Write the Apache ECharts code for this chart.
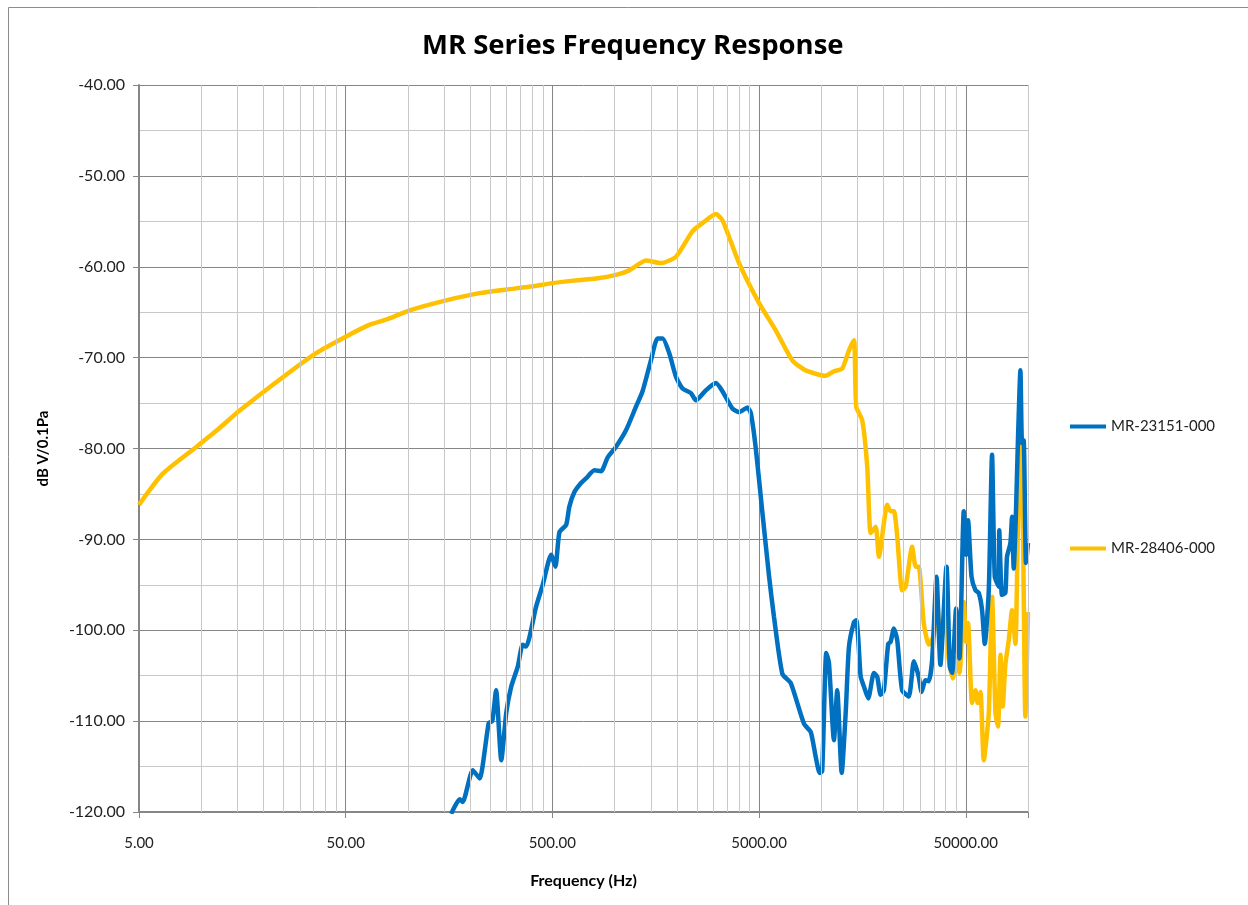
<!DOCTYPE html>
<html>
<head>
<meta charset="utf-8">
<title>MR Series Frequency Response</title>
<script src="https://cdn.jsdelivr.net/npm/echarts@6/dist/echarts.min.js"></script>
<style>
  html, body { margin: 0; padding: 0; background: #fff; }
  #chart { width: 1248px; height: 905px; }
</style>
</head>
<body>
<div id="chart"></div>
<script>
// frequency in Hz, level in dB V/0.1Pa
const blueName = 'MR-23151-000';
const blueFreq = [162, 178, 184, 206, 222, 246, 256, 267, 283, 299, 316, 340, 359, 373, 417, 449, 493, 517, 541, 583,
  604, 639, 688, 727, 798, 860, 925, 1016, 1135, 1269, 1365, 1499, 1613, 1706, 1837, 1980, 2131, 2339, 2473, 2764,
  3089, 3324, 3715, 4004, 4390, 4560, 4820, 5190, 5590, 5900, 6480, 7110, 8250, 8890, 9390, 9820, 10100, 10570, 10890, 11510,
  11940, 12550, 13120, 13610, 14390, 14760, 15090, 15500, 16080, 16870, 17970, 18640, 19370, 20080, 21070, 21630, 22450, 23300, 24600, 26500,
  28050, 29600, 30550, 31930, 33100, 34370, 36100, 37700, 40330, 41850, 42940, 44900, 46600, 48900, 50170, 51300, 53300, 55700, 57800, 59950,
  61770, 64600, 67000, 69050, 72150, 72600, 74830, 77700, 79150, 82200, 83700, 85300, 87500, 89400, 91900, 93550, 95300, 97800, 100000];
const blueDb = [-120.2, -118.6, -118.9, -115.4, -116.3, -110.2, -110.0, -106.6, -114.3, -109.1, -106.2, -104.0, -101.6, -101.8, -97.4, -95.0, -91.7, -93.0, -89.2, -88.4,
  -86.4, -84.8, -83.8, -83.3, -82.4, -82.5, -81.0, -79.8, -78.0, -75.4, -73.7, -70.3, -67.9, -67.9, -69.5, -72.1, -73.4, -73.9, -74.7, -73.6,
  -72.8, -73.7, -75.6, -76.0, -75.5, -76.1, -80.0, -87.1, -94.1, -98.5, -104.8, -105.8, -110.3, -111.2, -113.9, -115.7, -115.5, -102.5, -103.6, -112.1,
  -106.6, -115.7, -109.1, -101.8, -99.1, -98.9, -100.9, -105.1, -106.2, -107.5, -104.7, -105.1, -107.1, -106.6, -101.5, -101.3, -99.8, -101.1, -106.6, -107.3,
  -103.4, -105.1, -106.8, -105.5, -105.6, -103.3, -94.1, -103.8, -93.0, -104.0, -104.7, -97.6, -103.1, -86.9, -91.7, -87.9, -94.1, -95.6, -95.9, -97.8,
  -101.5, -95.6, -80.7, -94.1, -95.2, -89.0, -96.1, -95.9, -91.9, -90.4, -87.5, -93.2, -86.8, -79.1, -71.4, -79.4, -79.1, -92.6, -90.4];

const yellowName = 'MR-28406-000';
const yellowFreq = [5, 6.5, 9.5, 11.9, 15.4, 25, 36, 50, 65, 79, 102, 153, 222, 300, 387, 500, 650, 813, 1016, 1177,
  1418, 1675, 1981, 2380, 2661, 3088, 3327, 4000, 5000, 6020, 7240, 8410, 10500, 11510, 12630, 13610, 14390, 14760, 15780, 16680,
  17330, 18330, 19000, 20850, 21630, 22450, 23300, 24600, 25600, 27500, 28600, 29600, 31300, 33100, 35000, 36300, 37700, 39900, 41400, 43300,
  44900, 46600, 48900, 50200, 51300, 53600, 55700, 57150, 58900, 61100, 64600, 67000, 69600, 71600, 73600, 75500, 77700, 80700, 83700, 86900,
  89400, 91900, 94600, 97100, 100000];
const yellowDb = [-86.2, -82.8, -79.8, -78.0, -75.8, -72.1, -69.5, -67.7, -66.4, -65.8, -64.8, -63.7, -62.9, -62.5, -62.2, -61.8, -61.5, -61.3, -60.9, -60.4,
  -59.3, -59.6, -58.9, -56.1, -55.2, -54.2, -54.9, -59.6, -64.0, -67.0, -70.3, -71.4, -72.0, -71.5, -71.2, -69.2, -68.1, -75.4, -76.9, -82.0,
  -89.3, -88.6, -91.9, -86.2, -86.9, -86.9, -89.7, -95.6, -95.2, -90.8, -93.0, -93.0, -99.2, -101.6, -100.5, -96.7, -101.1, -99.1, -103.3, -105.3,
  -103.1, -104.7, -96.9, -101.3, -99.2, -108.0, -106.6, -108.0, -106.8, -114.3, -109.1, -96.3, -109.1, -110.6, -102.7, -108.4, -103.8, -101.1, -97.8, -101.5,
  -88.2, -78.7, -89.3, -109.5, -98.0];

// axis settings
const freqMin = 5;
const freqMax = 100000;
const dbMin = -120;
const dbMax = -40;
const dbStep = 10;
// minor vertical gridlines: 5*k*10^n, k = 2..9
const minorFreqs = [];
for (let n = 0; n < 5; n++) {
  for (let k = 2; k <= 9; k++) {
    const f = 5 * k * Math.pow(10, n);
    if (f <= freqMax) minorFreqs.push(f);
  }
}

const majorGrid = '#868686';
const minorGrid = '#c8c8c8';
const font = 'Lato, "Open Sans", sans-serif';

const toPairs = (xs, ys) => xs.map((x, i) => [x, ys[i]]);

const chart = echarts.init(document.getElementById('chart'), null, { renderer: 'canvas' });

const option = {
  animation: false,
  backgroundColor: '#ffffff',
  textStyle: { fontFamily: font },
  title: {
    text: 'MR Series Frequency Response',
    left: 417,
    top: 27,
    textStyle: { fontFamily: '"Open Sans", Lato, sans-serif', fontWeight: 'bold', fontSize: 27.5, color: '#000' },
  },
  legend: {
    orient: 'vertical',
    left: 1065,
    top: 414,
    itemGap: 107,
    itemWidth: 36,
    itemHeight: 4,
    icon: 'rect',
    data: [blueName, yellowName],
    textStyle: { fontFamily: font, fontSize: 15, color: '#222' },
  },
  graphic: [
    {
      type: 'rect',
      shape: { x: 8.5, y: 7.5, width: 1400, height: 1100 },
      style: { fill: 'none', stroke: '#8c8c8c', lineWidth: 1 },
      silent: true,
    },
  ],
  grid: { left: 139, right: 220, top: 85, bottom: 93, containLabel: false },
  xAxis: [
    {
      // data axis, log scale
      type: 'log',
      logBase: 10,
      min: freqMin,
      max: freqMax,
      show: false,
    },
    {
      // label axis: decades counted from 5 Hz
      type: 'value',
      min: 0,
      max: Math.log10(freqMax / freqMin),
      interval: 1,
      position: 'bottom',
      name: 'Frequency (Hz)',
      nameLocation: 'middle',
      nameGap: 61,
      nameTextStyle: { fontFamily: font, fontWeight: 'bold', fontSize: 16, color: '#000' },
      axisLine: { show: true, onZero: false, lineStyle: { color: majorGrid, width: 2 } },
      axisTick: { show: true, length: 6, lineStyle: { color: majorGrid, width: 1 } },
      axisLabel: {
        margin: 24,
        fontFamily: font,
        fontSize: 15,
        color: '#222',
        formatter: (v) => (v > 4.2 ? '' : (freqMin * Math.pow(10, v)).toFixed(2)),
      },
      splitLine: { show: true, lineStyle: { color: majorGrid, width: 1 } },
    },
  ],
  yAxis: {
    type: 'value',
    min: dbMin,
    max: dbMax,
    interval: dbStep,
    name: 'dB V/0.1Pa',
    nameLocation: 'middle',
    nameGap: 88,
    nameTextStyle: { fontFamily: font, fontWeight: 'bold', fontSize: 15, color: '#000' },
    axisLine: { show: true, lineStyle: { color: majorGrid, width: 2 } },
    axisTick: { show: true, length: 6, lineStyle: { color: majorGrid, width: 1 } },
    axisLabel: {
      margin: 14,
      fontFamily: font,
      fontSize: 16,
      color: '#222',
      formatter: (v) => v.toFixed(2),
    },
    splitLine: { show: true, lineStyle: { color: majorGrid, width: 1 } },
    minorTick: { show: false, splitNumber: 2 },
    minorSplitLine: { show: true, lineStyle: { color: minorGrid, width: 1 } },
  },
  series: [
    {
      // holds the minor log gridlines
      name: 'grid',
      type: 'line',
      xAxisIndex: 0,
      data: [],
      z: 1,
      silent: true,
      markLine: {
        silent: true,
        symbol: ['none', 'none'],
        label: { show: false },
        lineStyle: { color: minorGrid, width: 1, type: 'solid' },
        emphasis: { disabled: true },
        data: minorFreqs.map((f) => ({ xAxis: f })),
      },
    },
    {
      name: blueName,
      type: 'line',
      xAxisIndex: 0,
      data: toPairs(blueFreq, blueDb),
      smooth: 0.2,
      showSymbol: false,
      symbol: 'none',
      clip: true,
      z: 4,
      lineStyle: { color: '#0070C0', width: 4.5 },
      itemStyle: { color: '#0070C0' },
    },
    {
      name: yellowName,
      type: 'line',
      xAxisIndex: 0,
      data: toPairs(yellowFreq, yellowDb),
      smooth: 0.2,
      showSymbol: false,
      symbol: 'none',
      clip: true,
      z: 3,
      lineStyle: { color: '#FFC000', width: 4.5 },
      itemStyle: { color: '#FFC000' },
    },
  ],
};

chart.setOption(option);
</script>
</body>
</html>
